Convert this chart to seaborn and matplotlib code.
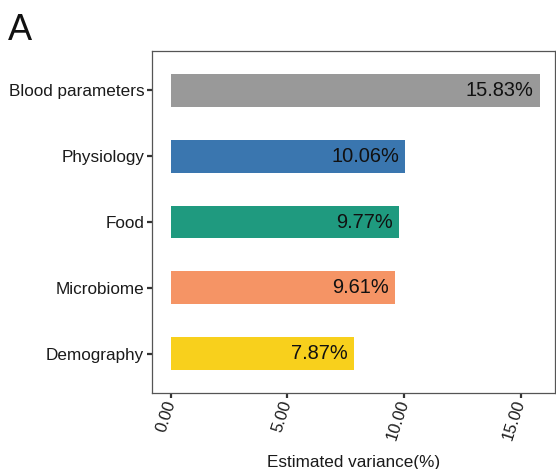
import matplotlib
matplotlib.use("Agg")
import matplotlib.pyplot as plt
import seaborn as sns
import pandas as pd

categories = ["Blood parameters", "Physiology", "Food", "Microbiome", "Demography"]
variance = [15.83, 10.06, 9.77, 9.61, 7.87]
bar_colors = ["#999999", "#3A76AF", "#1F9A7F", "#F59465", "#F8D01C"]
x_ticks = [0, 5, 10, 15]
x_tick_labels = ["0.00", "5.00", "10.00", "15.00"]

sns.set_theme(style="white")
plt.rcParams["font.family"] = ["Liberation Sans", "DejaVu Sans"]

df = pd.DataFrame({"group": categories, "variance": variance})

fig = plt.figure(figsize=(5.56, 4.69), dpi=100)
W, H = 556, 469
ax = fig.add_axes([152 / W, 1 - 393 / H, (555 - 152) / W, (393 - 51) / H])

sns.barplot(data=df, x="variance", y="group", hue="group", order=categories,
            hue_order=categories, palette=bar_colors, saturation=1, orient="h",
            width=0.5, linewidth=0, legend=False, ax=ax)

# value labels right-aligned just inside the end of each bar
for i, v in enumerate(variance):
    ax.annotate(f"{v:.2f}%", xy=(v, i), xytext=(-4.5, 0), textcoords="offset points",
                ha="right", va="center", fontsize=14.4, color="#111111")

ax.set_xlim(-0.8, 16.47)
ax.set_ylim(4.6, -0.6)
ax.set_xticks(x_ticks)
ax.set_xticklabels(x_tick_labels, rotation=72, ha="right", va="center",
                   rotation_mode="anchor", fontsize=12, color="#1a1a1a")
ax.tick_params(axis="y", labelsize=12.3, labelcolor="#1a1a1a")
ax.tick_params(axis="both", which="major", length=3.5, width=1.6, color="#333333",
               bottom=True, left=True, pad=2)
ax.set_ylabel("")
ax.set_xlabel("Estimated variance(%)", fontsize=12.3, color="#1a1a1a", labelpad=9)

for s in ax.spines.values():
    s.set_visible(True)
    s.set_color("#555555")
    s.set_linewidth(0.9)

fig.text(8 / W, 1 - 40 / H, "A", fontsize=26, color="#111111", ha="left", va="baseline")

fig.savefig("out.png", dpi=100, facecolor="white")
